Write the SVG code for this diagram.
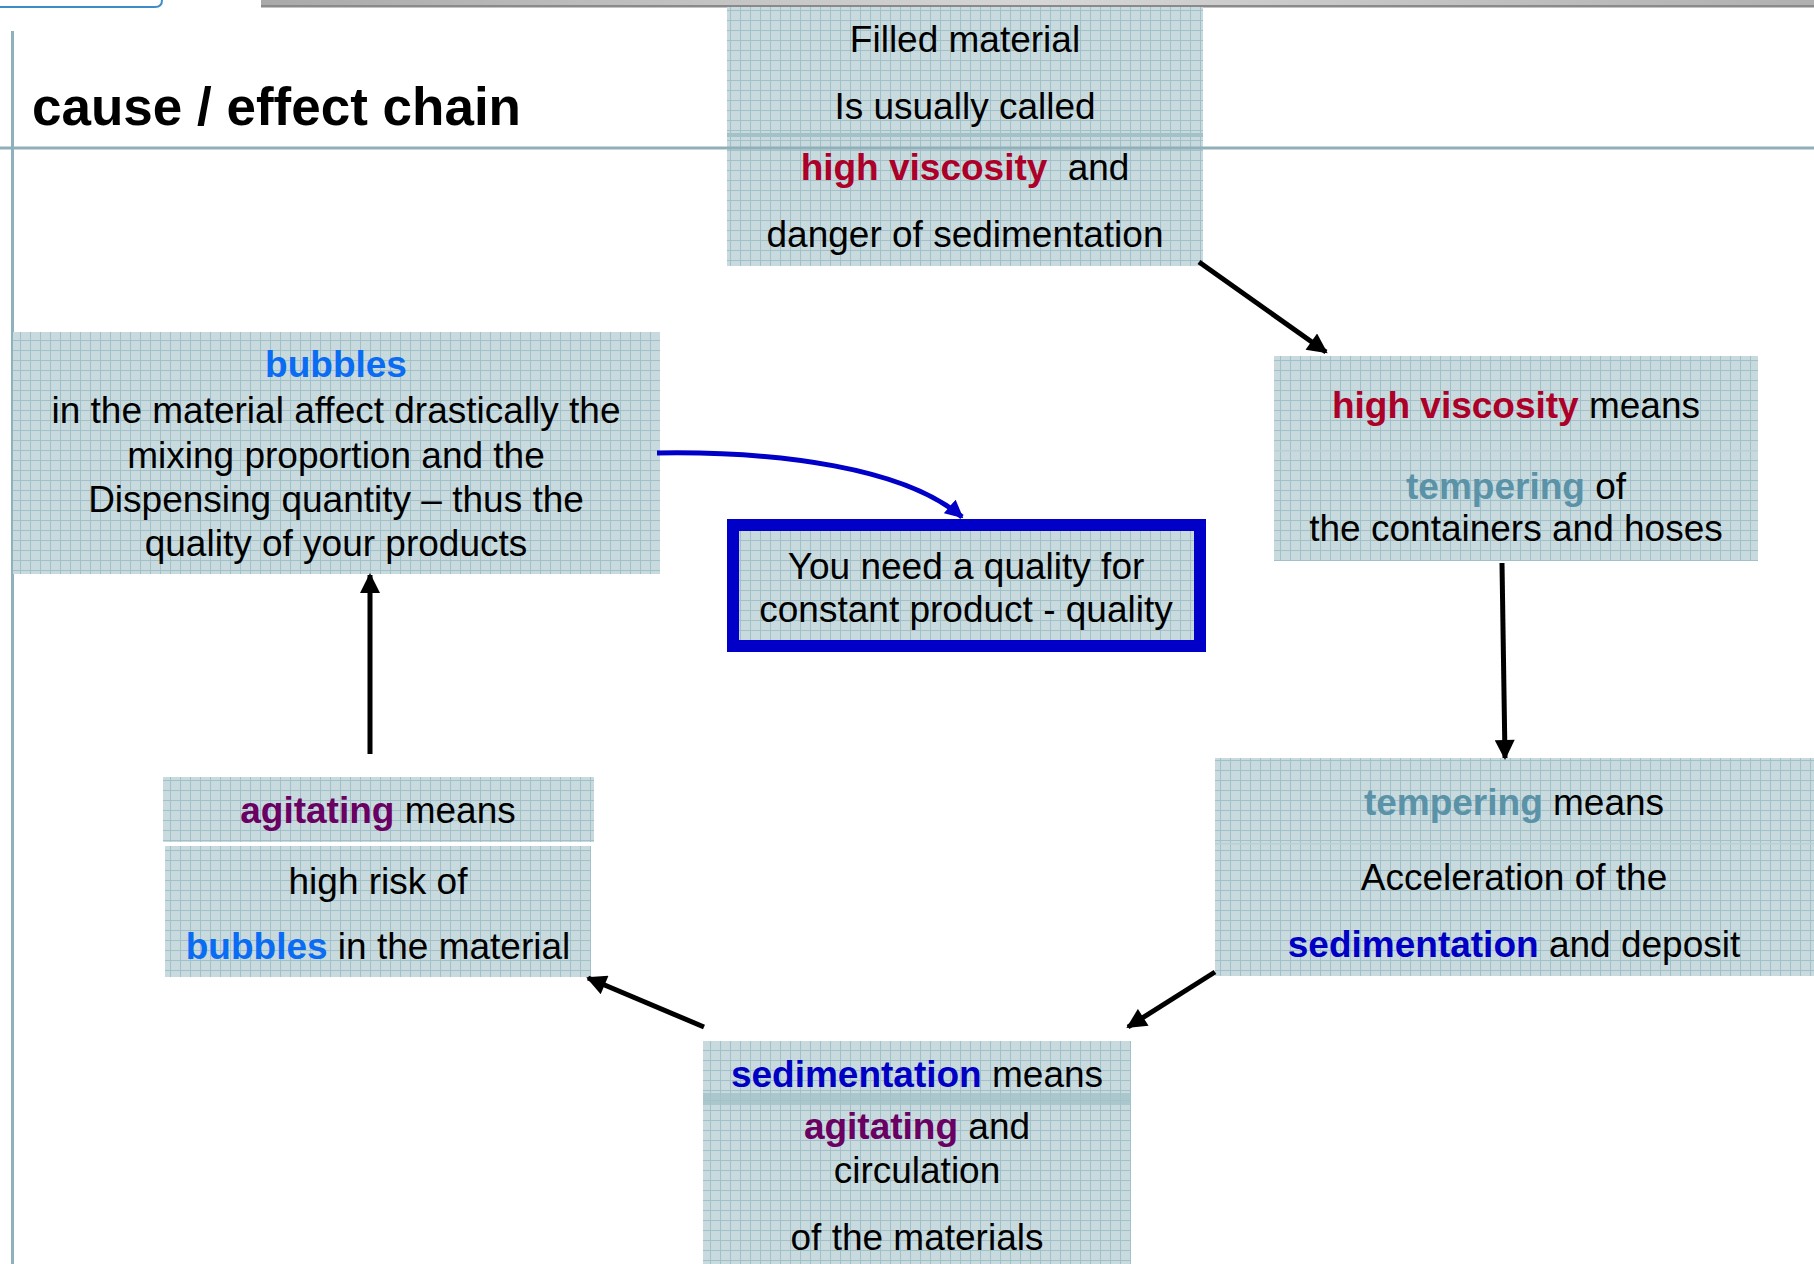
<svg xmlns="http://www.w3.org/2000/svg" width="1814" height="1264" viewBox="0 0 1814 1264">
<defs>
<pattern id="grid" width="10" height="10" patternUnits="userSpaceOnUse">
<rect width="10" height="10" fill="#c8dade"/>
<path d="M0 0.5H10M0.5 0V10" stroke="#a0c1c7" stroke-width="1"/>
</pattern>
<linearGradient id="bar" x1="0" x2="1" y1="0" y2="0">
<stop offset="0" stop-color="#a9a9a9"/>
<stop offset="0.5" stop-color="#d6d6d6"/>
<stop offset="1" stop-color="#b0b0b0"/>
</linearGradient>
<marker id="ah" viewBox="0 0 10 10" refX="9" refY="5" markerWidth="22" markerHeight="20" markerUnits="userSpaceOnUse" orient="auto">
<path d="M0 0L10 5L0 10z" fill="#000"/>
</marker>
<marker id="ahb" viewBox="0 0 10 10" refX="9" refY="5" markerWidth="18" markerHeight="18" markerUnits="userSpaceOnUse" orient="auto">
<path d="M0 0L10 5L0 10z" fill="#0000c8"/>
</marker>
</defs>
<style>
text{font-family:"Liberation Sans",Arial,sans-serif;font-size:37px;fill:#000;text-anchor:middle}
.title{font-size:53px;font-weight:bold;text-anchor:start}
.b{font-weight:bold}
.red{fill:#ad0029}
.teal{fill:#5a92a8}
.lblue{fill:#0a6cf2}
.dblue{fill:#0000c4}
.purp{fill:#6a0062}
.box{fill:url(#grid)}
.sep{fill:#a3c2c8}
.conn{stroke:#000;stroke-width:5;fill:none;marker-end:url(#ah)}
</style>
<rect width="1814" height="1264" fill="#fff"/>
<g id="frame">
<rect x="261" y="0" width="1553" height="5" fill="url(#bar)"/>
<rect x="261" y="5" width="1553" height="2.5" fill="#8a8a8a"/>
<path d="M0 7H155Q162 7 162 0" fill="none" stroke="#3d8cc8" stroke-width="2"/>
<line x1="12.5" y1="31" x2="12.5" y2="1264" stroke="#8fb1bb" stroke-width="3"/>
<text class="title" x="32" y="125">cause / effect chain</text>
</g>
<g id="n1">
<rect class="box" x="727" y="7" width="476" height="259"/>
<rect class="sep" x="727" y="133" width="476" height="4"/>
<text x="965" y="52">Filled material</text>
<text x="965" y="119">Is usually called</text>
<text x="965" y="180"><tspan class="b red">high viscosity</tspan><tspan dx="10"> and</tspan></text>
<text x="965" y="247">danger of sedimentation</text>
</g>
<g id="pageline">
<line x1="0" y1="148" x2="1814" y2="148" stroke="#8fb0b8" stroke-width="3"/>
</g>
<g id="n2">
<rect class="box" x="1274" y="356" width="484" height="205"/>
<rect x="1274" y="450" width="484" height="1.5" fill="#b9d0d4"/>
<text x="1516" y="418"><tspan class="b red">high viscosity</tspan> means</text>
<text x="1516" y="499"><tspan class="b teal">tempering</tspan> of</text>
<text x="1516" y="541">the containers and hoses</text>
</g>
<g id="n3">
<rect class="box" x="13" y="332" width="647" height="242"/>
<text class="b lblue" x="336" y="377">bubbles</text>
<text x="336" y="423">in the material affect drastically the</text>
<text x="336" y="468">mixing proportion and the</text>
<text x="336" y="512">Dispensing quantity – thus the</text>
<text x="336" y="556">quality of your products</text>
</g>
<g id="n4">
<rect class="box" x="733" y="525" width="467" height="121" stroke="#0000c8" stroke-width="12"/>
<text x="966" y="579">You need a quality for</text>
<text x="966" y="622">constant product - quality</text>
</g>
<g id="n5">
<rect class="box" x="1215" y="758" width="599" height="218"/>
<rect x="1215" y="843" width="599" height="1.5" fill="#b9d0d4"/>
<text x="1514" y="815"><tspan class="b teal">tempering</tspan> means</text>
<text x="1514" y="890">Acceleration of the</text>
<text x="1514" y="957"><tspan class="b dblue">sedimentation</tspan> and deposit</text>
</g>
<g id="n6">
<rect class="box" x="163" y="777" width="431" height="65"/>
<rect class="box" x="165" y="846" width="426" height="131"/>
<text x="378" y="823"><tspan class="b purp">agitating</tspan> means</text>
<text x="378" y="894">high risk of</text>
<text x="378" y="959"><tspan class="b lblue">bubbles</tspan> in the material</text>
</g>
<g id="n7">
<rect class="box" x="703" y="1041" width="428" height="223"/>
<rect class="sep" x="703" y="1093" width="428" height="12" opacity="0.8"/>
<text x="917" y="1087"><tspan class="b dblue">sedimentation</tspan> means</text>
<text x="917" y="1139"><tspan class="b purp">agitating</tspan> and</text>
<text x="917" y="1183">circulation</text>
<text x="917" y="1250">of the materials</text>
</g>
<g id="connectors">
<line class="conn" x1="1199" y1="262" x2="1326" y2="352"/>
<line class="conn" x1="1502" y1="563" x2="1505" y2="758"/>
<line class="conn" x1="1215" y1="972" x2="1128" y2="1027"/>
<line class="conn" x1="704" y1="1027" x2="588" y2="978"/>
<line class="conn" x1="370" y1="754" x2="370" y2="575"/>
<path d="M657 453C780 451 905 468 962 517" fill="none" stroke="#0000c8" stroke-width="5" marker-end="url(#ahb)"/>
</g>
</svg>
